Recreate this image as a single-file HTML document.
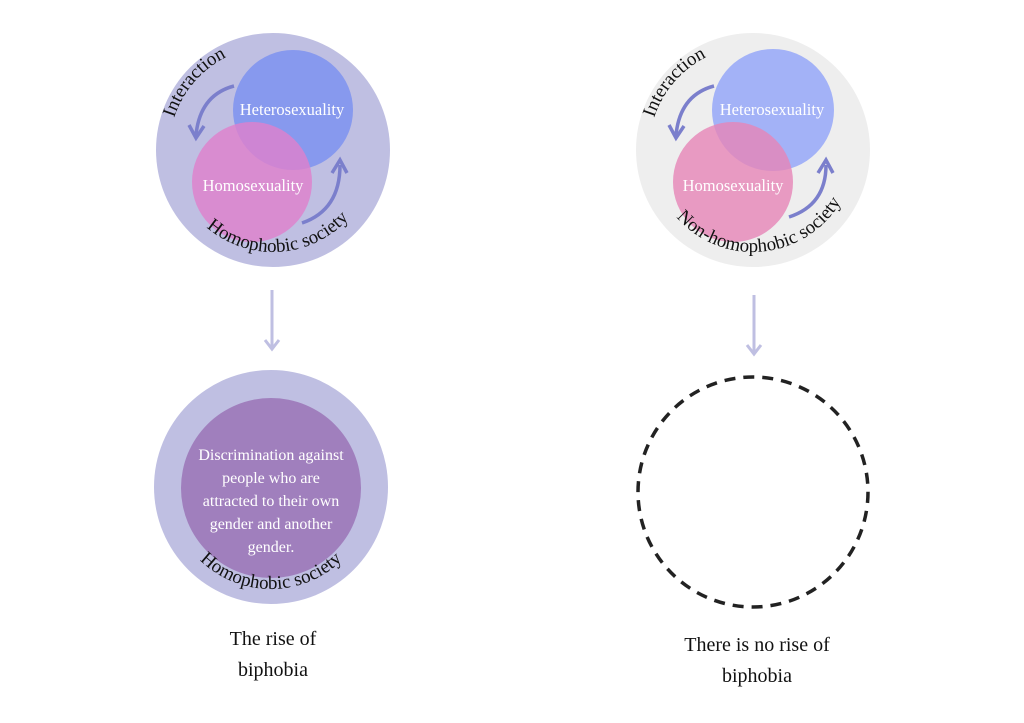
<!DOCTYPE html>
<html><head><meta charset="utf-8"><style>
html,body{margin:0;padding:0;background:#fff;}
svg{display:block;font-family:"Liberation Serif",serif;}
</style></head><body>
<svg width="1024" height="723" viewBox="0 0 1024 723" xmlns="http://www.w3.org/2000/svg">
<defs>
<path id="arcL1" d="M 273 150 m -102 0 a 102 102 0 0 0 204 0"/>
<path id="arcL1top" d="M 273 150 m -104 0 a 104 104 0 0 1 208 0"/>
<path id="arcR1" d="M 753 150 m -102 0 a 102 102 0 0 0 204 0"/>
<path id="arcR1top" d="M 753 150 m -104 0 a 104 104 0 0 1 208 0"/>
<path id="arcL2" d="M 271 487 m -102 0 a 102 102 0 0 0 204 0"/>
</defs>

<!-- LEFT TOP -->
<circle cx="273" cy="150" r="117" fill="#bfbfe2"/>
<circle cx="293" cy="110" r="60" fill="#8799ee"/>
<circle cx="252" cy="182" r="60" fill="#e07fcc" fill-opacity="0.8"/>
<text x="292" y="115" font-size="16.5" fill="#fff" text-anchor="middle">Heterosexuality</text>
<text x="253" y="191" font-size="16.5" fill="#fff" text-anchor="middle">Homosexuality</text>
<text font-size="19" fill="#111"><textPath href="#arcL1top" startOffset="10%">Interaction</textPath></text>
<text font-size="19" fill="#111"><textPath href="#arcL1" startOffset="52%" text-anchor="middle">Homophobic society</textPath></text>
<path d="M 234 86 Q 200 95 196 135" fill="none" stroke="#7b7fcc" stroke-width="3.5"/>
<path d="M 189 125 L 196 138 L 204 126" fill="none" stroke="#7b7fcc" stroke-width="3.5"/>
<path d="M 302 223 Q 340 210 340 165" fill="none" stroke="#7b7fcc" stroke-width="3.5"/>
<path d="M 332 173 L 340 160 L 347 173" fill="none" stroke="#7b7fcc" stroke-width="3.5"/>

<!-- RIGHT TOP -->
<circle cx="753" cy="150" r="117" fill="#eeeeee"/>
<circle cx="773" cy="110" r="61" fill="#a3b2f7"/>
<circle cx="733" cy="182" r="60" fill="#e684b6" fill-opacity="0.8"/>
<text x="772" y="115" font-size="16.5" fill="#fff" text-anchor="middle">Heterosexuality</text>
<text x="733" y="191" font-size="16.5" fill="#fff" text-anchor="middle">Homosexuality</text>
<text font-size="19" fill="#111"><textPath href="#arcR1top" startOffset="10%">Interaction</textPath></text>
<text font-size="19" fill="#111"><textPath href="#arcR1" startOffset="53%" text-anchor="middle">Non-homophobic society</textPath></text>
<path d="M 714 86 Q 680 95 676 135" fill="none" stroke="#7b7fcc" stroke-width="3.5"/>
<path d="M 669 125 L 676 138 L 684 126" fill="none" stroke="#7b7fcc" stroke-width="3.5"/>
<path d="M 789 217 Q 826 205 826 165" fill="none" stroke="#7b7fcc" stroke-width="3.5"/>
<path d="M 818 173 L 826 160 L 833 173" fill="none" stroke="#7b7fcc" stroke-width="3.5"/>

<!-- arrows down -->
<line x1="272" y1="290" x2="272" y2="348" stroke="#bfbfe2" stroke-width="3"/>
<path d="M 265 340 L 272 349 L 279 340" fill="none" stroke="#bfbfe2" stroke-width="3"/>
<line x1="754" y1="295" x2="754" y2="353" stroke="#bfbfe2" stroke-width="3"/>
<path d="M 747 345 L 754 354 L 761 345" fill="none" stroke="#bfbfe2" stroke-width="3"/>

<!-- LEFT BOTTOM -->
<circle cx="271" cy="487" r="117" fill="#bfbfe2"/>
<circle cx="271" cy="488" r="90" fill="#a07fbd"/>
<g font-size="16" fill="#fff" text-anchor="middle">
<text x="271" y="460">Discrimination against</text>
<text x="271" y="483">people who are</text>
<text x="271" y="506">attracted to their own</text>
<text x="271" y="529">gender and another</text>
<text x="271" y="552">gender.</text>
</g>
<text font-size="19" fill="#111"><textPath href="#arcL2" startOffset="50%" text-anchor="middle">Homophobic society</textPath></text>

<!-- RIGHT BOTTOM -->
<circle cx="753" cy="492" r="115" fill="none" stroke="#222" stroke-width="3.5" stroke-dasharray="11 8"/>

<g font-size="20" fill="#111" text-anchor="middle">
<text x="273" y="645">The rise of</text>
<text x="273" y="676">biphobia</text>
<text x="757" y="651">There is no rise of</text>
<text x="757" y="682">biphobia</text>
</g>
</svg>
</body></html>
